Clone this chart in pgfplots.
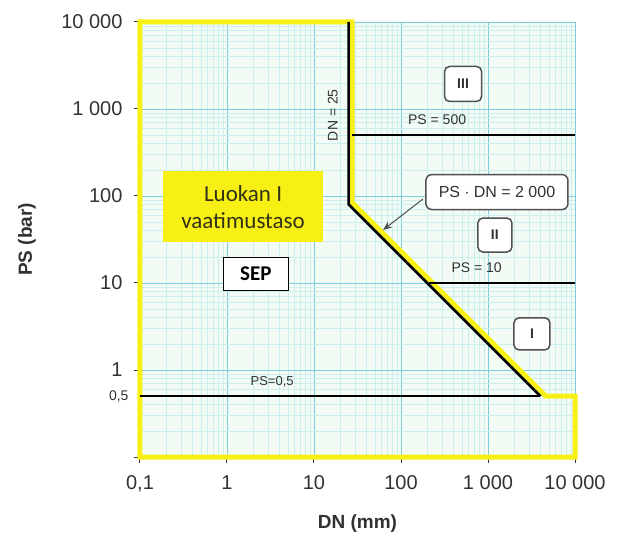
\documentclass[border=0pt]{standalone}
\usepackage{fontspec}
\setmainfont{Liberation Sans}
\newfontfamily\carlito{Carlito}
\usepackage{pgfplots}
\pgfplotsset{compat=1.18}
\usetikzlibrary{arrows.meta}
\definecolor{bg}{RGB}{242,251,244}
\definecolor{gmaj}{RGB}{125,205,222}
\definecolor{gmin}{RGB}{205,238,240}
\definecolor{yel}{RGB}{248,240,20}
\definecolor{txt}{RGB}{50,50,50}
\definecolor{boxc}{RGB}{80,80,80}
\begin{document}
\begin{tikzpicture}
\begin{axis}[
 scale only axis, width=435pt, height=435pt,
 xmode=log, ymode=log, xmin=0.1, xmax=10000, ymin=0.1, ymax=10000,
 axis line style={draw=none},
 axis background/.style={fill=bg},
 grid=both,
 major grid style={gmaj, line width=0.9pt},
 minor grid style={gmin, line width=0.5pt},
 xtick={0.1,1,10,100,1000,10000},
 xticklabels={{0,1},1,10,100,{1 000},{10 000}},
 ytick={0.1,1,10,100,1000,10000},
 yticklabels={,1,10,100,{1 000},{10 000}},
 extra y ticks={0.5},
 extra y tick labels={0{,}5},
 extra y tick style={grid=none, major tick length=0pt,
   yticklabel style={font=\fontsize{14}{16}\selectfont}},
 tick align=outside, major tick length=6pt, minor tick length=0pt,
 xtick pos=bottom, ytick pos=left,
 tick style={color=txt, line width=1pt},
 tick label style={font=\fontsize{20}{24}\selectfont, text=txt},
 yticklabel style={xshift=-8pt},
 xticklabel style={yshift=-9pt},
 clip=false,
]
\coordinate (SW) at (rel axis cs:0,0);
\coordinate (NE) at (rel axis cs:1,1);
\coordinate (YL) at (rel axis cs:0,0.5);
\coordinate (XL) at (rel axis cs:0.5,0);
% yellow boundary of SEP region
\addplot[yel, line width=5pt, line join=miter] coordinates {
 (0.1,10000) (27.5,10000) (27.5,84) (4620,0.5) (10000,0.5) (10000,0.1) (0.1,0.1)} -- cycle;
% black category boundaries
\addplot[black, line width=2.6pt, line join=miter] coordinates {(25,10000) (25,80) (4000,0.5)};
\addplot[black, line width=2.6pt] coordinates {(0.1,0.5) (4000,0.5)};
\addplot[black, line width=2.6pt] coordinates {(27,500) (10000,500)};
\addplot[black, line width=2.6pt] coordinates {(210,10) (10000,10)};
% labels
\node[fill=yel, minimum width=160pt, minimum height=71pt, align=center,
  font=\carlito\fontsize{23}{27}\selectfont, text={rgb,255:red,50;green,50;blue,20}]
  at (axis cs:1.53,75) {Luokan I\\vaatimustaso};
\node[fill=white, draw=black, line width=1.5pt, minimum width=65pt, minimum height=33pt,
  font=\carlito\bfseries\fontsize{21}{24}\selectfont] at (axis cs:2.15,12.7) {SEP};
\node[fill=white, draw=boxc, line width=1.5pt, rounded corners=5pt, minimum width=37pt,
  minimum height=35pt, font=\bfseries\fontsize{14}{16}\selectfont, text=txt] at (axis cs:517,1940) {III};
\node[fill=white, draw=boxc, line width=1.5pt, rounded corners=5pt, minimum width=34pt,
  minimum height=34pt, font=\bfseries\fontsize{14}{16}\selectfont, text=txt] at (axis cs:1200,35.6) {II};
\node[fill=white, draw=boxc, line width=1.5pt, rounded corners=5pt, minimum width=36pt,
  minimum height=32pt, font=\bfseries\fontsize{14}{16}\selectfont, text=txt] at (axis cs:3200,2.6) {I};
\draw[boxc, line width=1pt, -{Stealth[length=9pt,width=7pt]}] (axis cs:178,92) -- (axis cs:62,40.6);
\node[fill=white, draw=boxc, line width=1.5pt, rounded corners=6pt, minimum width=142pt,
  minimum height=35pt, font=\fontsize{16}{19}\selectfont, text=txt] at (axis cs:1268,111) {PS $\cdot$ DN = 2 000};
\node[font=\fontsize{14}{16}\selectfont, text=txt] at (axis cs:260,748) {PS = 500};
\node[font=\fontsize{14}{16}\selectfont, text=txt] at (axis cs:740,14.9) {PS = 10};
\node[font=\fontsize{13}{16}\selectfont, text=txt] at (axis cs:3.3,0.73) {PS=0,5};
\node[font=\fontsize{14}{16}\selectfont, text=txt, rotate=90] at (axis cs:16.5,850) {DN = 25};
\end{axis}
\node[rotate=90, font=\bfseries\fontsize{19}{22}\selectfont, text=txt] at ([xshift=-113pt]YL) {PS (bar)};
\node[font=\bfseries\fontsize{19}{22}\selectfont, text=txt] at ([yshift=-67pt]XL) {DN (mm)};
\pgfresetboundingbox
\path ([shift={(-140pt,-81pt)}]SW) rectangle ([shift={(49pt,22pt)}]NE);
\end{tikzpicture}
\end{document}
